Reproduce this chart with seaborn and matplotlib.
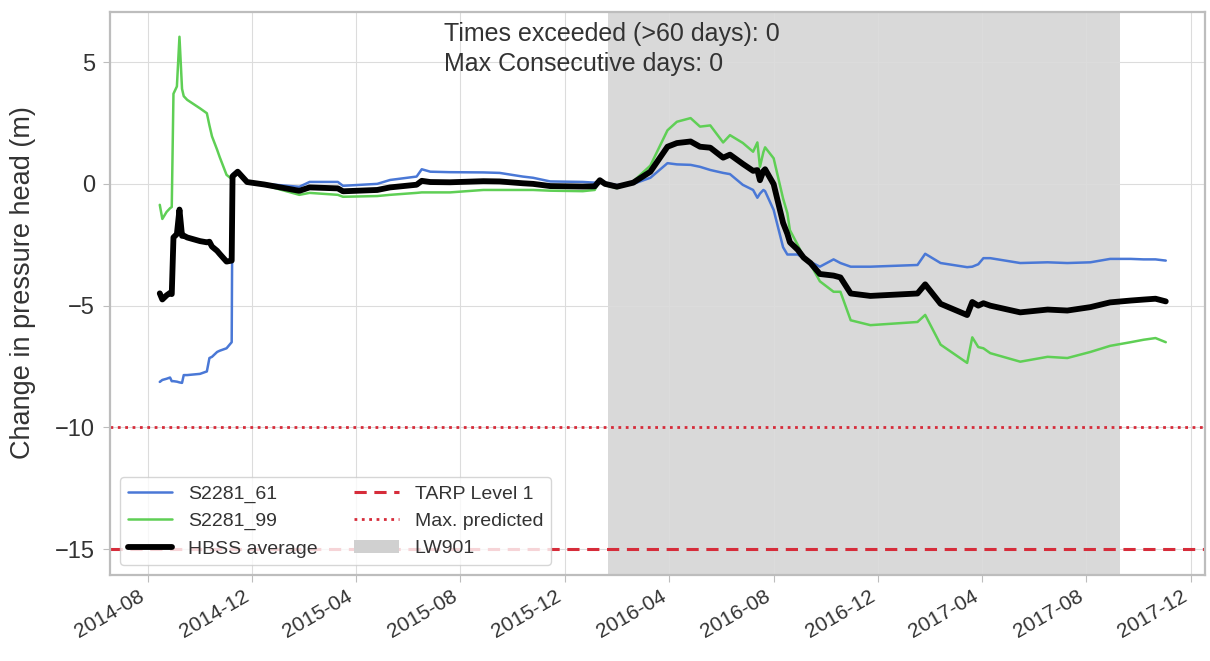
import pandas as pd
import numpy as np
import matplotlib
matplotlib.use('Agg')
import matplotlib.pyplot as plt
import matplotlib.dates as mdates
from matplotlib.patches import Patch
import seaborn as sns

dates = [
    "2014-08-15", "2014-08-18", "2014-08-23", "2014-08-27", "2014-08-29", "2014-08-31",
    "2014-09-04", "2014-09-07", "2014-09-10", "2014-09-12", "2014-09-16", "2014-10-01",
    "2014-10-09", "2014-10-12", "2014-10-15", "2014-10-21", "2014-10-24", "2014-11-01",
    "2014-11-07", "2014-11-08", "2014-11-14", "2014-11-25", "2014-12-15", "2015-01-25",
    "2015-02-06", "2015-03-11", "2015-03-17", "2015-04-26", "2015-05-11", "2015-06-11",
    "2015-06-17", "2015-06-27", "2015-07-20", "2015-08-28", "2015-09-16", "2015-10-13",
    "2015-10-25", "2015-11-14", "2015-12-22", "2016-01-05", "2016-01-11", "2016-01-17",
    "2016-01-31", "2016-02-19", "2016-03-10", "2016-03-30", "2016-04-10", "2016-04-26",
    "2016-05-07", "2016-05-19", "2016-06-03", "2016-06-11", "2016-06-26", "2016-07-08",
    "2016-07-13", "2016-07-16", "2016-07-20", "2016-07-22", "2016-08-01", "2016-08-12",
    "2016-08-17", "2016-08-20", "2016-08-29", "2016-09-05", "2016-09-13", "2016-09-24",
    "2016-10-10", "2016-10-18", "2016-10-30", "2016-11-22", "2017-01-16", "2017-01-25",
    "2017-02-12", "2017-03-15", "2017-03-21", "2017-03-28", "2017-04-03", "2017-04-11",
    "2017-05-16", "2017-06-17", "2017-07-10", "2017-08-06", "2017-08-29", "2017-09-22",
    "2017-10-07", "2017-10-21", "2017-11-02",
]
s2281_61 = [
    -8.13, -8.05, -8.00, -7.95, -8.10, -8.10,
    -8.12, -8.15, -8.17, -7.85, -7.85, -7.80,
    -7.70, -7.15, -7.10, -6.90, -6.85, -6.75,
    -6.50, 0.40, 0.55, 0.10, 0.00, -0.12,
    0.08, 0.08, -0.08, 0.00, 0.16, 0.30,
    0.60, 0.50, 0.48, 0.47, 0.45, 0.30,
    0.25, 0.10, 0.08, 0.05, 0.15, 0.05,
    -0.05, 0.00, 0.25, 0.85, 0.80, 0.78,
    0.70, 0.57, 0.45, 0.40, -0.04, -0.25,
    -0.57, -0.40, -0.25, -0.30, -1.07, -2.60,
    -2.90, -2.90, -2.90, -3.05, -3.20, -3.40,
    -3.10, -3.25, -3.40, -3.40, -3.33, -2.87,
    -3.25, -3.42, -3.40, -3.30, -3.05, -3.05,
    -3.25, -3.22, -3.25, -3.22, -3.08, -3.08,
    -3.10, -3.10, -3.15,
]
s2281_99 = [
    -0.86, -1.44, -1.15, -1.00, -0.95, 3.70,
    4.00, 6.04, 3.90, 3.60, 3.45, 3.10,
    2.90, 2.40, 1.95, 1.40, 1.10, 0.37,
    0.20, 0.22, 0.45, 0.05, -0.05, -0.45,
    -0.37, -0.45, -0.53, -0.50, -0.45, -0.37,
    -0.35, -0.35, -0.35, -0.25, -0.25, -0.25,
    -0.25, -0.28, -0.30, -0.25, 0.15, -0.05,
    -0.18, 0.10, 0.75, 2.20, 2.55, 2.70,
    2.35, 2.40, 1.70, 2.00, 1.68, 1.32,
    1.70, 0.70, 1.30, 1.50, 1.05, -0.60,
    -1.20, -1.90, -2.50, -3.00, -3.30, -4.00,
    -4.43, -4.43, -5.60, -5.80, -5.67, -5.38,
    -6.60, -7.35, -6.30, -6.70, -6.75, -6.95,
    -7.30, -7.10, -7.15, -6.90, -6.65, -6.50,
    -6.40, -6.33, -6.50,
]

tarp_level = -15
max_predicted = -10
lw901_start, lw901_end = "2016-01-20", "2017-09-10"
times_exceeded = 0
max_consecutive = 0

df = pd.DataFrame({"date": pd.to_datetime(dates), "S2281_61": s2281_61, "S2281_99": s2281_99})
df["HBSS average"] = df[["S2281_61", "S2281_99"]].mean(axis=1)

sns.set_style("whitegrid", {"axes.edgecolor": "#bdbdbd", "grid.color": "#dcdcdc",
                            "xtick.bottom": True, "ytick.left": True})
plt.rcParams['font.family'] = ['Liberation Sans', 'DejaVu Sans']

fig = plt.figure(figsize=(12.1, 6.61), dpi=100)
ax = fig.add_axes([0.091, 0.13, 0.905, 0.852])

red = "#d62c3a"
ax.axvspan(pd.Timestamp(lw901_start), pd.Timestamp(lw901_end), color="#d9d9d9", zorder=0, lw=0)
sns.lineplot(data=df, x="date", y="S2281_61", ax=ax, color="#4a78d6", lw=1.8, label="S2281_61")
sns.lineplot(data=df, x="date", y="S2281_99", ax=ax, color="#5fcf55", lw=1.8, label="S2281_99")
sns.lineplot(data=df, x="date", y="HBSS average", ax=ax, color="black", lw=4.2, label="HBSS average")
ax.axhline(tarp_level, color=red, ls=(0, (4, 2.5)), lw=2.2, label="TARP Level 1")
ax.axhline(max_predicted, color=red, ls=":", lw=2.0, label="Max. predicted")

ax.text(0.305, 0.982, f"Times exceeded (>60 days): {times_exceeded}\nMax Consecutive days: {max_consecutive}",
        transform=ax.transAxes, va="top", ha="left", fontsize=18, color="#333333", linespacing=1.3)

handles, labels = ax.get_legend_handles_labels()
handles.append(Patch(facecolor="#d0d0d0", edgecolor="none"))
labels.append("LW901")
leg = ax.legend(handles, labels, loc="lower left", ncol=2, fontsize=14, columnspacing=1.9,
                handlelength=2.3, labelspacing=0.5, borderaxespad=0.5)
for t in leg.get_texts():
    t.set_color("#333333")

ax.set_xlim(pd.Timestamp("2014-06-18"), pd.Timestamp("2017-12-18"))
ax.set_ylim(-16.06, 7.06)
ax.set_yticks([5, 0, -5, -10, -15])
ax.xaxis.set_major_locator(mdates.MonthLocator(bymonth=[4, 8, 12]))
ax.xaxis.set_major_formatter(mdates.DateFormatter("%Y-%m"))
plt.setp(ax.get_xticklabels(), rotation=30, ha="right")
ax.tick_params(axis="x", labelsize=15, colors="#333333", length=5, color="#bdbdbd")
ax.tick_params(axis="y", labelsize=17, colors="#333333", length=5, color="#bdbdbd", pad=6)
ax.set_xlabel("")
ax.set_ylabel("Change in pressure head (m)", fontsize=19.5, color="#333333")
ax.yaxis.set_label_coords(-0.068, 0.52)
for s in ax.spines.values():
    s.set_linewidth(1.6)

fig.savefig("out.png", dpi=100)
